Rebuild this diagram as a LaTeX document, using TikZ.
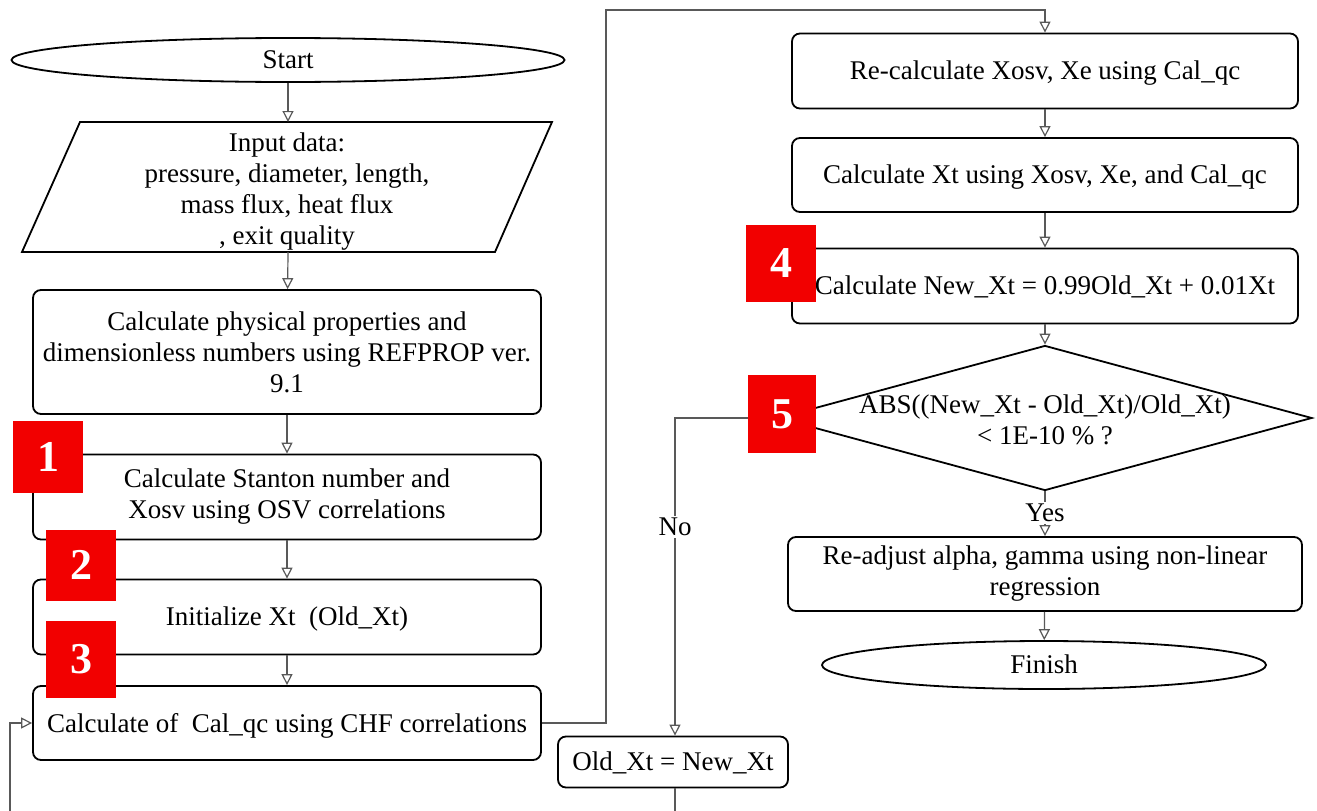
\documentclass[tikz,border=0pt]{standalone}
\usepackage{fontspec}
\setmainfont{Liberation Serif}
\usetikzlibrary{shapes.geometric,arrows.meta}
\begin{document}
\begin{tikzpicture}[x=1pt,y=-1pt,
  font=\fontsize{27}{31}\selectfont,
  box/.style={draw=black,line width=1.8pt,rounded corners=8pt,align=center,text=black,inner sep=0pt},
  oneline/.style={text depth=1pt},
  term/.style={draw=black,line width=1.8pt,ellipse,inner sep=0pt,text=black,text depth=1pt},
  conn/.style={draw=black!65,line width=1.2pt,-{Triangle[open,length=11pt,width=11pt]}},
  plain/.style={draw=black!65,line width=1.2pt},
  lab/.style={fill=white,inner sep=2pt,text=black},
  redbox/.style={fill=red!95!black,inner sep=0pt,text=white,font=\fontsize{44}{44}\selectfont\bfseries}
]
\useasboundingbox (0,0) rectangle (1317,811);
\fill[white] (0,0) rectangle (1317,811);

% left column
\node[term,minimum width=553pt,minimum height=44pt] (start) at (288,60) {Start};
\draw[line width=1.8pt] (80,122) -- (552,122) -- (495,252) -- (22,252) -- cycle;
\coordinate (inTop) at (288,122);
\coordinate (inBot) at (288,252);
\node[align=center,text=black] (input) at (287,192) {Input data:\\pressure, diameter, length,\\mass flux, heat flux\\, exit quality};
\node[box,minimum width=508pt,minimum height=124pt] (phys) at (287,352) {Calculate physical properties and\\dimensionless numbers using REFPROP ver.\\9.1};
\node[box,minimum width=508pt,minimum height=85pt] (stan) at (287,497) {Calculate Stanton number and\\Xosv using OSV correlations};
\node[box,oneline,minimum width=508pt,minimum height=75pt] (init) at (287,617) {Initialize Xt\ \ (Old\_Xt)};
\node[box,oneline,minimum width=508pt,minimum height=74pt] (calqc) at (287,723) {Calculate of\ \ Cal\_qc using CHF correlations};
\node[box,oneline,minimum width=230pt,minimum height=51pt] (oldxt) at (673,762) {Old\_Xt = New\_Xt};

% right column
\node[box,oneline,minimum width=506pt,minimum height=75pt] (recalc) at (1045,71) {Re-calculate Xosv, Xe using Cal\_qc};
\node[box,oneline,minimum width=506pt,minimum height=74pt] (calcxt) at (1045,175) {Calculate Xt using Xosv, Xe, and Cal\_qc};
\node[box,oneline,minimum width=506pt,minimum height=75pt] (newxt) at (1045,286) {Calculate New\_Xt = 0.99Old\_Xt + 0.01Xt};
\node[draw=black,line width=1.8pt,diamond,minimum width=534pt,minimum height=145pt,inner sep=0pt] (dec) at (1045,418) {};
\node[align=center,text=black] (dectext) at (1045,420) {ABS((New\_Xt - Old\_Xt)/Old\_Xt)\\< 1E-10 \% ?};
\node[box,minimum width=514pt,minimum height=74pt] (readj) at (1045,574) {Re-adjust alpha, gamma using non-linear\\regression};
\node[term,minimum width=444pt,minimum height=48pt] (finish) at (1044,665) {Finish};

% connectors
\draw[conn] (start) -- (inTop);
\draw[conn] (inBot) -- (phys);
\draw[conn] (phys) -- (stan);
\draw[conn] (stan) -- (init);
\draw[conn] (init) -- (calqc);
\draw[conn] (calqc.east) -- (606,723) -- (606,10) -- (1045,10) -- (recalc.north);
\draw[conn] (recalc) -- (calcxt);
\draw[conn] (calcxt) -- (newxt);
\draw[conn] (newxt) -- (dec.north);
\node[lab] (yes) at (1045,513) {Yes};
\draw[plain] (dec.south) -- (yes);
\draw[conn] (yes) -- (readj);
\draw[conn] (readj) -- (finish);
\coordinate (nocorner) at (675,418);
\node[lab] (no) at (675,527) {No};
\draw[plain] (dec.west) -- (nocorner) -- (no);
\draw[conn] (no) -- (oldxt.north -| no);
\draw[conn] (oldxt.south -| no) -- (675,840) -- (10,840) -- (10,723) -- (calqc.west);

% red markers
\node[redbox,minimum width=70pt,minimum height=72pt] (r1) at (48,457) {1};
\node[redbox,minimum width=70pt,minimum height=71pt] (r2) at (81,565) {2};
\node[redbox,minimum width=70pt,minimum height=77pt] (r3) at (81,659) {3};
\node[redbox,minimum width=70pt,minimum height=77pt] (r4) at (781,263) {4};
\node[redbox,minimum width=68pt,minimum height=78pt] (r5) at (782,414) {5};
\end{tikzpicture}
\end{document}
